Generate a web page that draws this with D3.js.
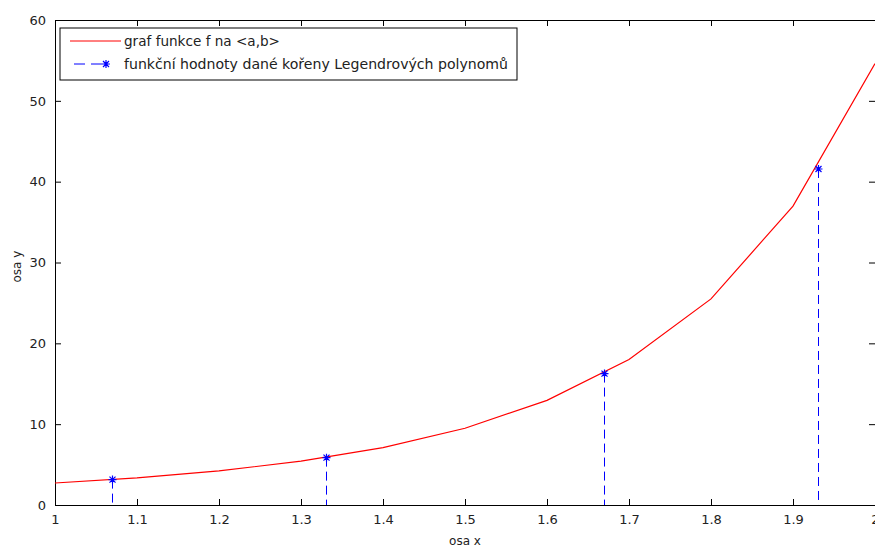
<!DOCTYPE html>
<html>
<head>
<meta charset="utf-8">
<script src="https://cdn.jsdelivr.net/npm/d3@7"></script>
<style>
  body { margin: 0; background: #fff; }
  text { font-family: "DejaVu Sans", sans-serif; }
</style>
</head>
<body>
<div id="visual"></div>
<script>
// red curve: sampled points of f on <a,b>
const xCurve = [1.0, 1.1, 1.2, 1.3, 1.4, 1.5, 1.6, 1.7, 1.8, 1.9, 2.0];
const yCurve = [2.72, 3.35, 4.22, 5.42, 7.10, 9.49, 12.94, 18.0, 25.5, 36.97, 54.6];
// blue stems: values at Legendre roots
const xRoots = [1.0694, 1.3300, 1.6700, 1.9306];
const yRoots = [3.14, 5.86, 16.26, 41.57];
const xTicks = [1, 1.1, 1.2, 1.3, 1.4, 1.5, 1.6, 1.7, 1.8, 1.9, 2];
const yTicks = [0, 10, 20, 30, 40, 50, 60];
const legendLabels = ["graf funkce f na <a,b>", "funkční hodnoty dané kořeny Legendrových polynomů"];
const legendWidths = [156, 384];

let width = 875, height = 548;
let margin = {left: 55, top: 20, right: 0, bottom: 43};

let svg = d3.select("#visual").append("svg")
    .attr("width", width)
    .attr("height", height);

let x = d3.scaleLinear().domain([1, 2]).range([margin.left, width - margin.right]);
let y = d3.scaleLinear().domain([0, 60]).range([height - margin.bottom, margin.top]);

// axes with inward ticks
let tickLen = 6;
let fmt = d => String(+d.toFixed(1));

svg.append("g")
    .attr("transform", "translate(0," + y(0) + ")")
    .call(d3.axisBottom(x).tickValues(xTicks).tickSize(-tickLen).tickPadding(10).tickFormat(fmt));
svg.append("g")
    .attr("transform", "translate(0," + y(60) + ")")
    .call(d3.axisTop(x).tickValues(xTicks).tickSize(-tickLen).tickFormat(""));
svg.append("g")
    .attr("transform", "translate(" + x(1) + ",0)")
    .call(d3.axisLeft(y).tickValues(yTicks).tickSize(-tickLen).tickPadding(9));
svg.append("g")
    .attr("transform", "translate(" + x(2) + ",0)")
    .call(d3.axisRight(y).tickValues(yTicks).tickSize(-tickLen).tickFormat(""));

svg.selectAll(".domain").attr("stroke", "#000");
svg.selectAll(".tick line").attr("stroke", "#000");
svg.selectAll(".tick text")
    .style("font-size", "13px")
    .style("font-family", "DejaVu Sans, sans-serif")
    .attr("fill", "#222");

// axis labels
svg.append("text")
    .attr("x", x(1.5))
    .attr("y", 545)
    .attr("text-anchor", "middle")
    .style("font-size", "12px")
    .attr("fill", "#222")
    .text("osa x");
svg.append("text")
    .attr("transform", "translate(21," + y(29.5) + ") rotate(-90)")
    .attr("text-anchor", "middle")
    .style("font-size", "12px")
    .attr("fill", "#222")
    .text("osa y");

// stems
let roots = xRoots.map((d, i) => ({x: d, y: yRoots[i]}));
svg.selectAll(".stem")
    .data(roots)
    .enter().append("line")
    .attr("class", "stem")
    .attr("x1", d => Math.round(x(d.x)) + 0.5)
    .attr("x2", d => Math.round(x(d.x)) + 0.5)
    .attr("y1", d => y(d.y))
    .attr("y2", y(0))
    .attr("stroke", "#0000ff")
    .attr("stroke-dasharray", "9,5");

// red curve
let line = d3.line().x(d => x(d[0])).y(d => y(d[1]));
svg.append("path")
    .datum(xCurve.map((d, i) => [d, yCurve[i]]))
    .attr("d", line)
    .attr("fill", "none")
    .attr("stroke", "#ff0000")
    .attr("stroke-width", 1.2);

// asterisk markers
function star(g, cx, cy) {
    let r = 4;
    g.append("path")
        .attr("d", "M" + (cx - r) + "," + cy + "H" + (cx + r) +
                   "M" + cx + "," + (cy - r) + "V" + (cy + r) +
                   "M" + (cx - 3) + "," + (cy - 3) + "L" + (cx + 3) + "," + (cy + 3) +
                   "M" + (cx - 3) + "," + (cy + 3) + "L" + (cx + 3) + "," + (cy - 3))
        .attr("stroke", "#0000ff")
        .attr("stroke-width", 1.2)
        .attr("fill", "none");
}
roots.forEach(d => star(svg, Math.round(x(d.x)) + 0.5, y(d.y)));

// legend
let lg = svg.append("g").attr("transform", "translate(60,28)");
lg.append("rect")
    .attr("width", 457)
    .attr("height", 52)
    .attr("fill", "#fff")
    .attr("stroke", "#000");
lg.append("line")
    .attr("x1", 10).attr("x2", 61).attr("y1", 13).attr("y2", 13)
    .attr("stroke", "#ff0000");
lg.append("line")
    .attr("x1", 14).attr("x2", 46).attr("y1", 36).attr("y2", 36)
    .attr("stroke", "#0000ff")
    .attr("stroke-dasharray", "11,6");
star(lg, 46, 36);
lg.selectAll(".lab")
    .data(legendLabels)
    .enter().append("text")
    .attr("x", 64)
    .attr("y", (d, i) => 18 + i * 23)
    .attr("textLength", (d, i) => legendWidths[i])
    .attr("lengthAdjust", "spacingAndGlyphs")
    .style("font-size", "13.5px")
    .attr("fill", "#222")
    .text(d => d);
</script>
</body>
</html>
